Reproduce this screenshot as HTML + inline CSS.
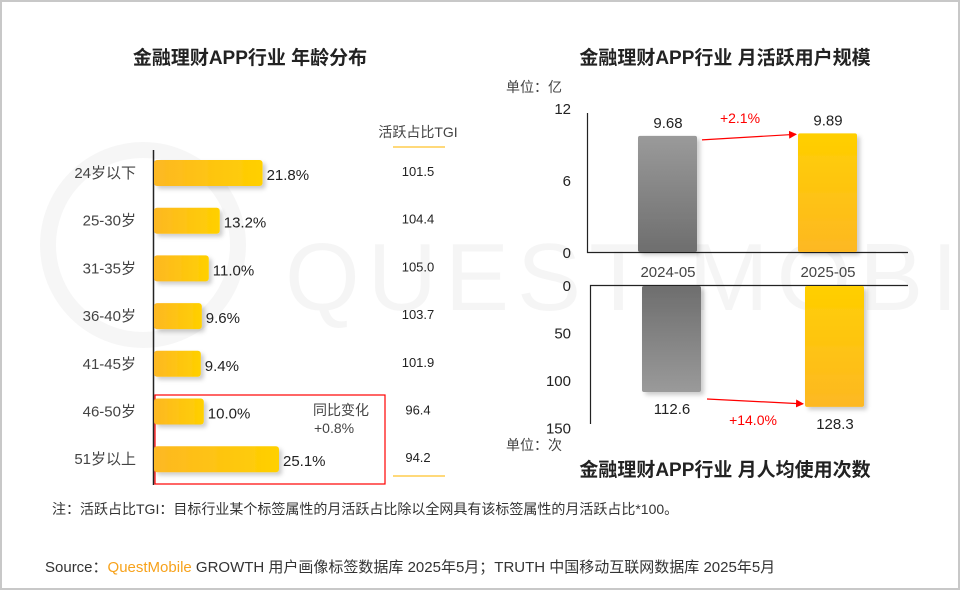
<!DOCTYPE html>
<html><head><meta charset="utf-8">
<style>
html,body{margin:0;padding:0;background:#fff;}
body{width:960px;height:590px;overflow:hidden;font-family:"Liberation Sans","Noto Sans CJK SC",sans-serif;}
svg{display:block;}
text{font-family:"Liberation Sans","Noto Sans CJK SC",sans-serif;}
</style></head>
<body>
<svg id="c" width="960" height="590" viewBox="0 0 960 590">
<defs>
<linearGradient id="gy" x1="0" x2="1" y1="0" y2="0"><stop offset="0" stop-color="#fdb823"/><stop offset="1" stop-color="#ffd000"/></linearGradient>
<linearGradient id="gyv" x1="0" x2="0" y1="0" y2="1"><stop offset="0" stop-color="#ffcf00"/><stop offset="1" stop-color="#fdb823"/></linearGradient>
<linearGradient id="gg" x1="0" x2="0" y1="0" y2="1"><stop offset="0" stop-color="#9a9a9a"/><stop offset="1" stop-color="#6e6e6e"/></linearGradient>
<linearGradient id="gg2" x1="0" x2="0" y1="0" y2="1"><stop offset="0" stop-color="#6e6e6e"/><stop offset="1" stop-color="#9a9a9a"/></linearGradient>
<marker id="arr" markerWidth="8" markerHeight="8" refX="7" refY="4" orient="auto" markerUnits="userSpaceOnUse"><path d="M0,0 L8,4 L0,8z" fill="#f00"/></marker>
<filter id="sh" x="-20%" y="-20%" width="150%" height="150%"><feDropShadow dx="3" dy="3" stdDeviation="2" flood-color="#000" flood-opacity="0.2"/></filter>
</defs>
<rect x="1" y="1" width="958" height="588" fill="#fff" stroke="#c8c8c8" stroke-width="2"/>
<g opacity="0.035">
<circle cx="143" cy="245" r="95" fill="none" stroke="#000" stroke-width="16"/>
<text x="285" y="310" font-size="96" fill="#000" letter-spacing="8">QUEST MOBILE</text>
</g>
<text x="250" y="64" font-size="19" font-weight="bold" fill="#222" text-anchor="middle">金融理财APP行业 年龄分布</text>
<text x="725" y="64" font-size="19" font-weight="bold" fill="#222" text-anchor="middle">金融理财APP行业 月活跃用户规模</text>
<text x="725" y="476" font-size="19" font-weight="bold" fill="#222" text-anchor="middle">金融理财APP行业 月人均使用次数</text>
<text x="418" y="137" font-size="14" fill="#444" text-anchor="middle">活跃占比TGI</text>
<line x1="393" y1="147" x2="445" y2="147" stroke="#ffd97a" stroke-width="2"/>
<line x1="393" y1="476" x2="445" y2="476" stroke="#ffd97a" stroke-width="2"/>
<line x1="153.5" y1="150" x2="153.5" y2="485" stroke="#222" stroke-width="1.5"/>
<rect x="155" y="395" width="230" height="89" fill="none" stroke="#f00" stroke-width="1.2"/>
<text x="313" y="415" font-size="14" fill="#444">同比变化</text>
<text x="314" y="433" font-size="14" fill="#444">+0.8%</text>
<text x="506" y="92" font-size="14" fill="#444">单位：亿</text>
<text x="506" y="450" font-size="14" fill="#444">单位：次</text>
<text x="52" y="514" font-size="14" fill="#333">注：活跃占比TGI：目标行业某个标签属性的月活跃占比除以全网具有该标签属性的月活跃占比*100。</text>
<text x="45" y="572" font-size="15" fill="#333">Source：<tspan fill="#f7a21b">QuestMobile</tspan> GROWTH 用户画像标签数据库 2025年5月；TRUTH 中国移动互联网数据库 2025年5月</text>
<g id="left"></g><g id="rt"></g><g id="rb"></g>
</svg>
<script>
const ageCats = ['24岁以下','25-30岁','31-35岁','36-40岁','41-45岁','46-50岁','51岁以上'];
const ageShare = [21.8,13.2,11.0,9.6,9.4,10.0,25.1];
const tgiVals = ['101.5','104.4','105.0','103.7','101.9','96.4','94.2'];
const months = ['2024-05','2025-05'];
const mauVals = [9.68,9.89];
const mauLabels = ['9.68','9.89'];
const mauTicks = [0,6,12];
const useVals = [112.6,128.3];
const useLabels = ['112.6','128.3'];
const useTicks = [0,50,100,150];
const mauGrowth = '+2.1%';
const useGrowth = '+14.0%';

const NS='http://www.w3.org/2000/svg';
function mk(parent,tag,attrs,txt){const e=document.createElementNS(NS,tag);for(const k in attrs)e.setAttribute(k,attrs[k]);if(txt!==undefined)e.textContent=txt;parent.appendChild(e);return e;}

const L=document.getElementById('left');
const xL=v=>154+v*4.98;
const yL=i=>173+i*47.7;
ageCats.forEach((c,i)=>{
  const y=yL(i);
  const t=mk(L,'text',{x:136,y:y+5,'font-size':15,fill:'#444','text-anchor':'end'},c);
  
  
  const r=mk(L,'rect',{x:154,y:y-13,width:xL(ageShare[i])-154,height:26,rx:3,fill:'url(#gy)',filter:'url(#sh)'});
  
  
  const v=mk(L,'text',{x:xL(ageShare[i])+4,y:y+7,'font-size':15,fill:'#222'},ageShare[i].toFixed(1)+'%');
  
  
  const g=mk(L,'text',{x:418,y:y+3,'font-size':13,fill:'#222','text-anchor':'middle'},tgiVals[i]);
  
  
});

const T=document.getElementById('rt');
const yT=v=>252-v*12;
const barX=[638,798];
const ax1=mk(T,'path',{d:'M587.5,113 V252.5 H908',fill:'none',stroke:'#222','stroke-width':1.2});


mauTicks.forEach(t=>{
  const e=mk(T,'text',{x:571,y:yT(t)+6,'font-size':15,fill:'#222','text-anchor':'end'},String(t));
  
  
});
mauVals.forEach((v,i)=>{
  const r=mk(T,'rect',{x:barX[i],y:yT(v),width:59,height:252-yT(v),rx:2,fill:i?'url(#gyv)':'url(#gg)',filter:'url(#sh)'});
  
  
  const l=mk(T,'text',{x:barX[i]+30,y:yT(v)-8,'font-size':15,fill:'#222','text-anchor':'middle'},mauLabels[i]);
  
  
  const m=mk(T,'text',{x:barX[i]+30,y:277,'font-size':15,fill:'#444','text-anchor':'middle'},months[i]);
  
  
});
const a1=mk(T,'line',{x1:702,y1:yT(mauVals[0])+4,x2:796,y2:yT(mauVals[1])+1,stroke:'#f00','stroke-width':1.2,'marker-end':'url(#arr)'});


const g1=mk(T,'text',{x:740,y:123,'font-size':14,fill:'#f00','text-anchor':'middle'},mauGrowth);



const B=document.getElementById('rb');
const yB=v=>285+v*0.95;
const barX2=[642,805];
const ax2=mk(B,'path',{d:'M590.5,424 V285.5 H908',fill:'none',stroke:'#222','stroke-width':1.2});


useTicks.forEach(t=>{
  const e=mk(B,'text',{x:571,y:yB(t)+6,'font-size':15,fill:'#222','text-anchor':'end'},String(t));
  
  
});
useVals.forEach((v,i)=>{
  const r=mk(B,'rect',{x:barX2[i],y:286,width:59,height:yB(v)-286,rx:2,fill:i?'url(#gyv)':'url(#gg2)',filter:'url(#sh)'});
  
  
  const l=mk(B,'text',{x:barX2[i]+30,y:yB(v)+22,'font-size':15,fill:'#222','text-anchor':'middle'},useLabels[i]);
  
  
});
const a2=mk(B,'line',{x1:707,y1:yB(useVals[0])+7,x2:803,y2:yB(useVals[1])-3,stroke:'#f00','stroke-width':1.2,'marker-end':'url(#arr)'});


const g2=mk(B,'text',{x:753,y:425,'font-size':14,fill:'#f00','text-anchor':'middle'},useGrowth);


</script>
</body></html>
